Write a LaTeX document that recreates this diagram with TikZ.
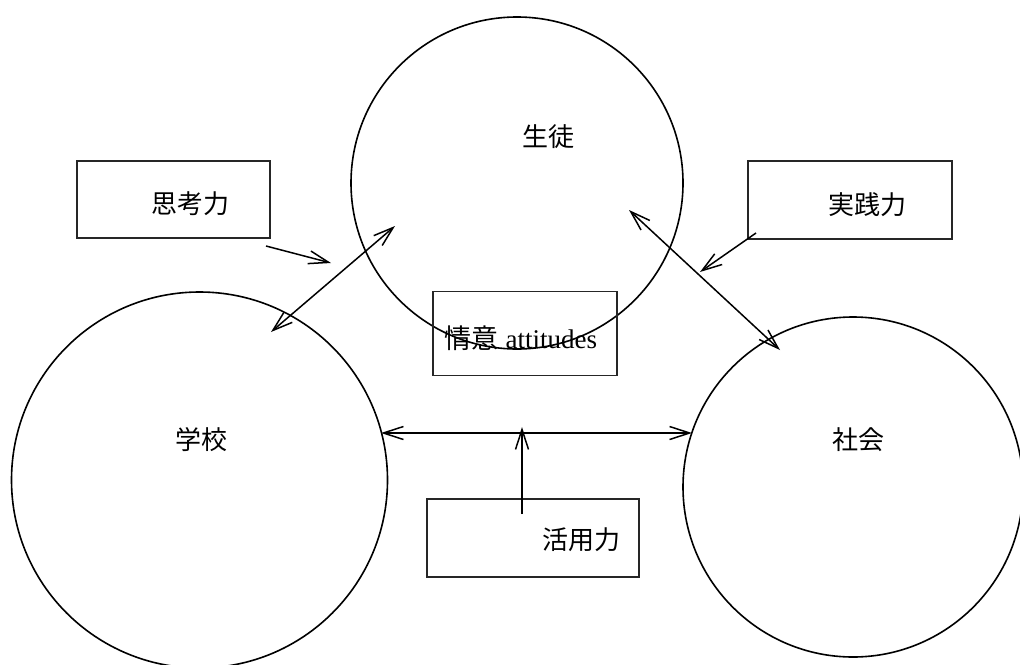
\documentclass[tikz,border=0pt]{standalone}
\usepackage{fontspec}
\setmainfont{Liberation Serif}
\newfontfamily\cjk{Noto Sans CJK JP}
\usetikzlibrary{arrows.meta}
\begin{document}
\begin{tikzpicture}[x=1pt,y=-1pt,
  ring/.style={circle,draw=black,line width=1.6pt,inner sep=0pt},
  framebox/.style={rectangle,draw=black!85,line width=1.6pt,inner sep=0pt},
  lbl/.style={inner sep=0pt,font=\fontsize{26}{30}\selectfont},
  conn/.style={line width=1.5pt,arrows={-Straight Barb[length=20pt,width=13pt,line width=1.5pt]}},
  dconn/.style={line width=1.5pt,arrows={Straight Barb[length=20pt,width=13pt,line width=1.5pt]-Straight Barb[length=20pt,width=13pt,line width=1.5pt]}}]
\useasboundingbox (0,0) rectangle (1020,664);
% circles
\node[ring,minimum size=332pt] (seito) at (517,183) {};
\node[ring,minimum size=376pt] (gakko) at (199.5,480) {};
\node[ring,minimum size=340pt] (shakai) at (853,487) {};
\node[lbl] (seitoT) at (548,137) {\cjk 生徒};
\node[lbl] (gakkoT) at (201,440) {\cjk 学校};
\node[lbl] (shakaiT) at (858,440) {\cjk 社会};
% boxes
\node[framebox,minimum width=193pt,minimum height=77pt] (shiko) at (173.5,199.5) {};
\node[lbl] (shikoT) at (190,204) {\cjk 思考力};
\node[framebox,minimum width=204pt,minimum height=78pt] (jissen) at (850,200) {};
\node[lbl] (jissenT) at (867,205) {\cjk 実践力};
\node[framebox,minimum width=184pt,minimum height=84pt] (joi) at (525,333.5) {};
\node[lbl,font=\fontsize{27}{30}\selectfont] (joiT) at (521,338) {{\cjk 情意} attitudes};
\node[framebox,minimum width=212pt,minimum height=78pt] (katsuyo) at (533,538) {};
\node[lbl] (katsuyoT) at (581,540) {\cjk 活用力};
% connector end points
\coordinate (a1) at (266,246);
\coordinate (a2) at (331,263);
\coordinate (b1) at (395,226);
\coordinate (b2) at (271,332);
\coordinate (c1) at (629,210);
\coordinate (c2) at (780,350);
\coordinate (d1) at (756,233);
\coordinate (d2) at (700,272);
\coordinate (e1) at (381,433);
\coordinate (e2) at (692,433);
\coordinate (f1) at (522,514);
\coordinate (f2) at (522,427);
% connectors
\draw[conn] (a1) -- (a2);
\draw[dconn] (b1) -- (b2);
\draw[dconn] (c1) -- (c2);
\draw[conn] (d1) -- (d2);
\draw[dconn] (e1) -- (e2);
\draw[conn] (f1) -- (f2);
\end{tikzpicture}
\end{document}
